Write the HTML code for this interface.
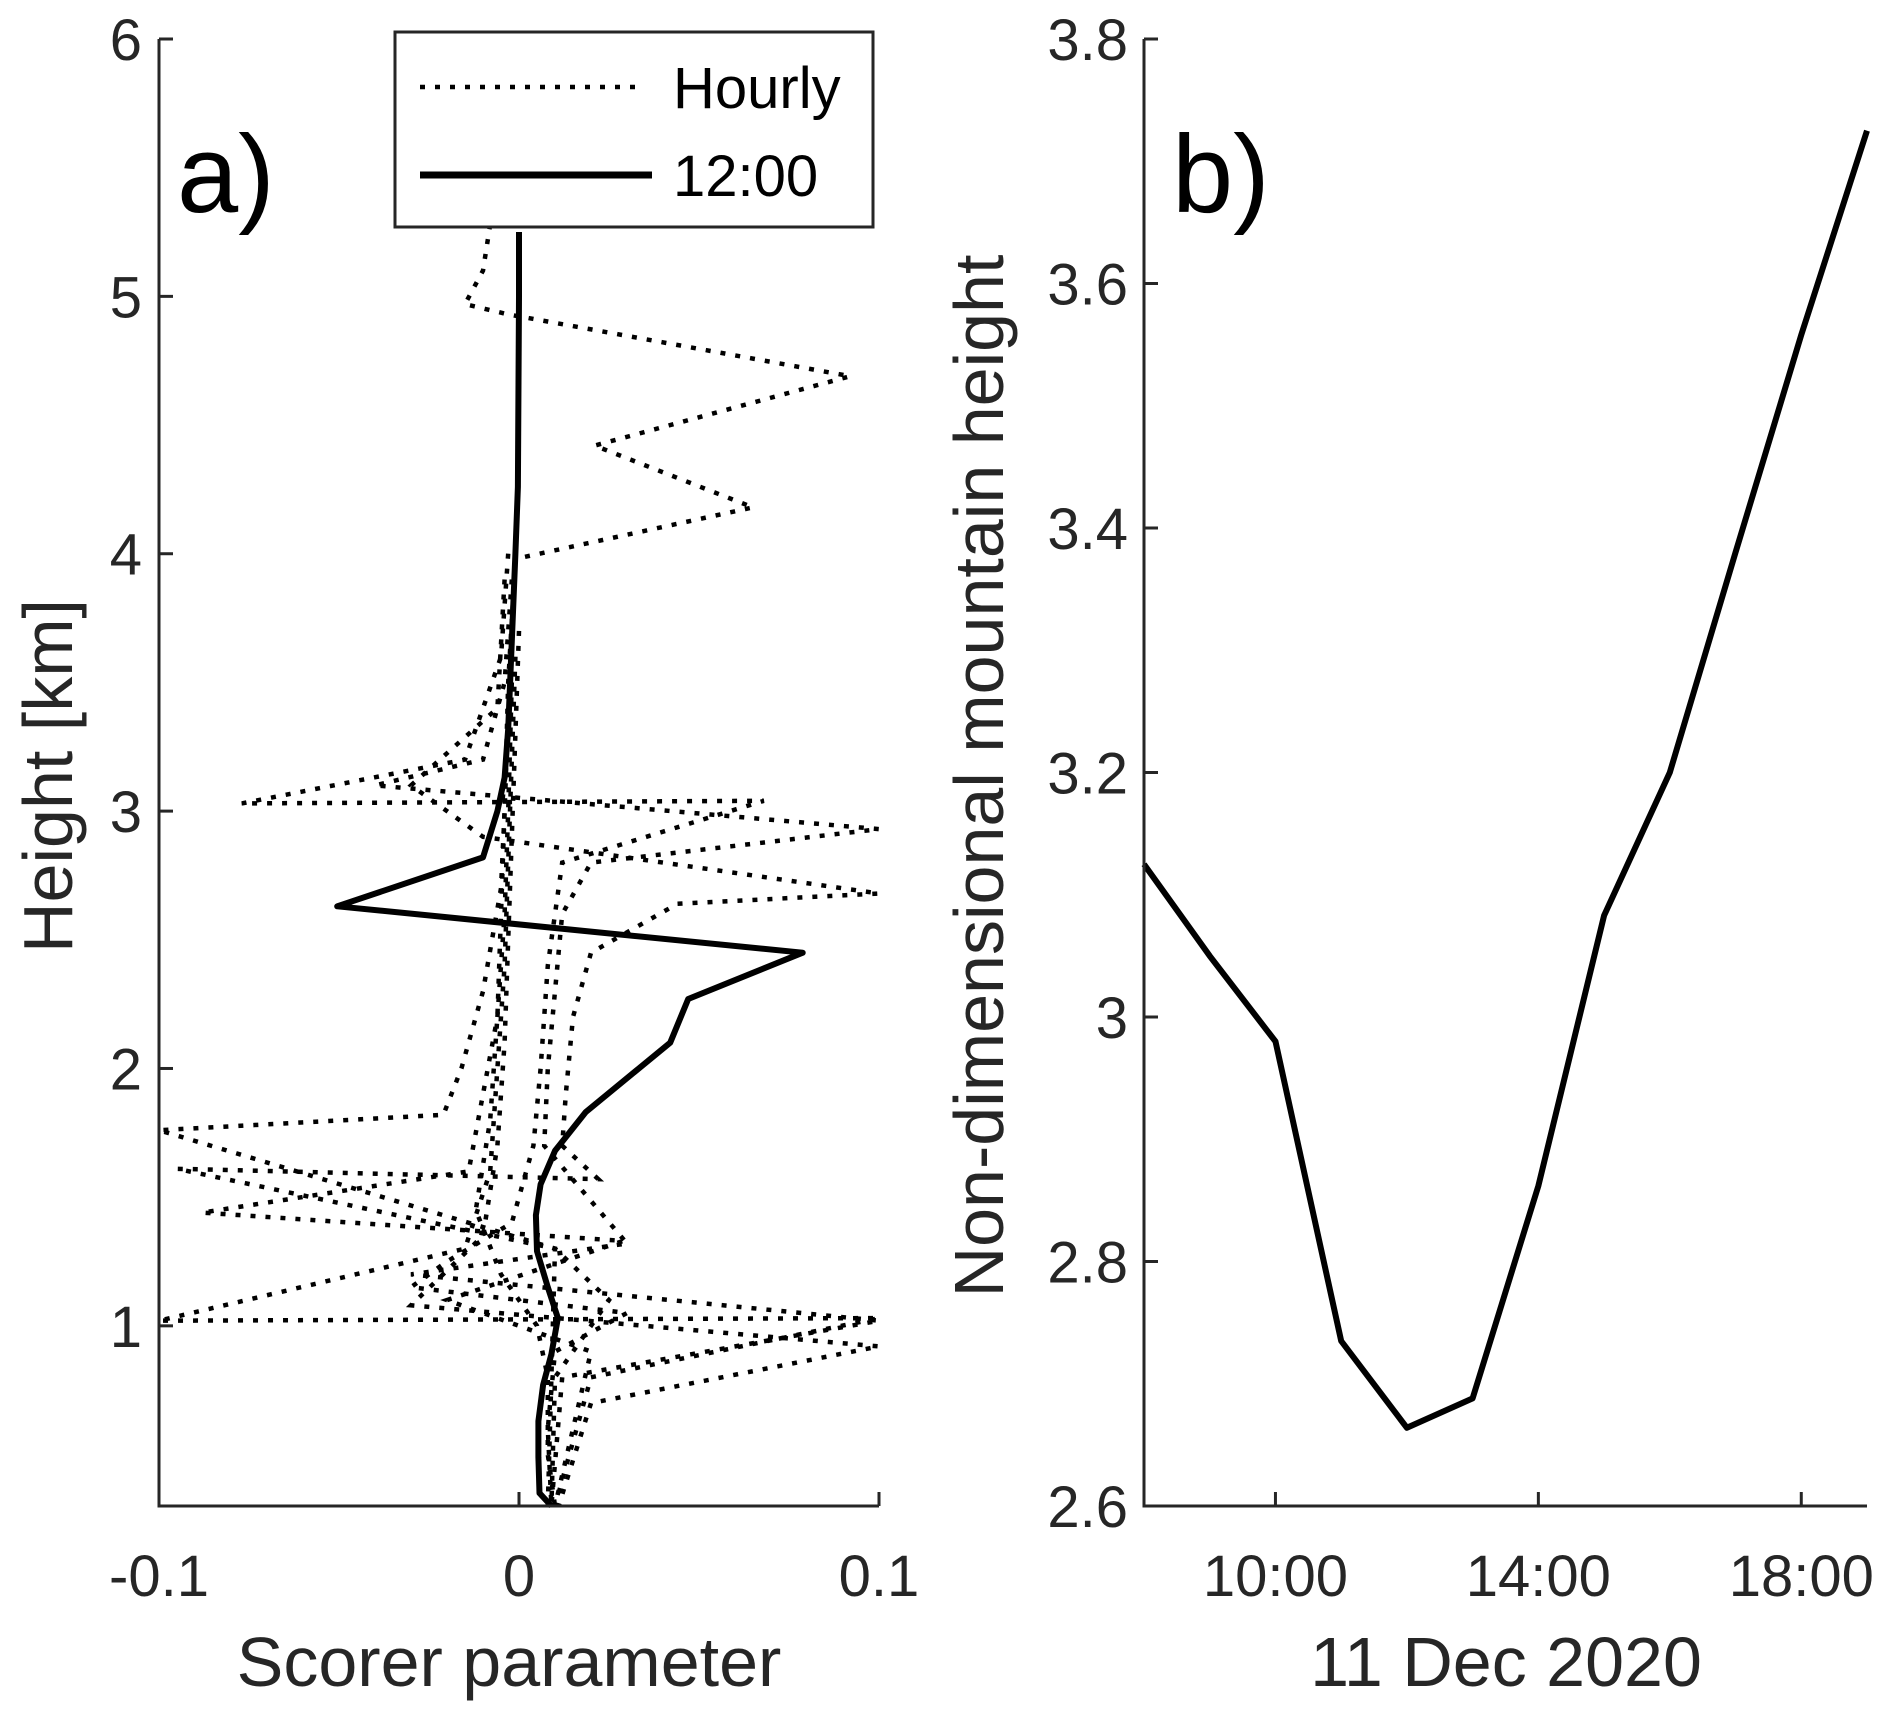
<!DOCTYPE html>
<html><head><meta charset="utf-8"><style>
html,body{margin:0;padding:0;background:#fff;}
svg{display:block;font-family:"Liberation Sans",Arial,sans-serif;}
</style></head><body>
<svg id="fig" width="1892" height="1716" viewBox="0 0 1892 1716" style="position:absolute;left:0;top:0;">
<g id="pa"></g>
<g id="pb"></g>
</svg>
<script>
// Panel a: Scorer parameter profiles
const aXTicks = [-0.1, 0, 0.1];
const aXTickLabels = ["-0.1", "0", "0.1"];
const aYTicks = [1, 2, 3, 4, 5, 6];
const aYTickLabels = ["1", "2", "3", "4", "5", "6"];
const noonScorer = [0, 0, -0.0003, -0.001, -0.003, -0.004, -0.006, -0.010, -0.0505, 0.0788, 0.047, 0.042, 0.0185, 0.010, 0.006, 0.0047, 0.005, 0.008, 0.0108, 0.009, 0.0067, 0.0054, 0.0054, 0.0057, 0.009];
const noonHeight = [5.25, 5.0, 4.26, 4.0, 3.32, 3.13, 3.0, 2.82, 2.63, 2.45, 2.27, 2.1, 1.83, 1.68, 1.55, 1.43, 1.29, 1.15, 1.03, 0.89, 0.77, 0.63, 0.49, 0.35, 0.3];
const hourlyScorer = [
  [-0.008,-0.010,-0.015,-0.003,0.092,0.021,0.065,-0.001,-0.003,-0.004,-0.005,-0.006,-0.008,-0.012,-0.005,0.005,0.008,0.008,0.01],
  [-0.003,-0.005,-0.015,-0.077,0.068,0.012,0.008,0.006,0.004,-0.002,-0.02,-0.03,0.03,0.01,0.008,0.009],
  [-0.002,-0.004,-0.01,-0.04,0.1,0.02,0.012,0.01,0.008,0.007,0.03,-0.03,0.1,0.012,0.009],
  [-0.004,-0.006,-0.03,-0.01,0.1,0.044,0.02,0.015,0.013,0.012,0.022,-0.095,0.01,0.008],
  [-0.003,-0.004,-0.005,-0.01,-0.016,-0.021,-0.1,0.01,0.025,0.01,0.009],
  [-0.002,-0.003,-0.004,-0.006,-0.01,-0.014,-0.088,0.029,-0.02,0.02,0.01],
  [-0.001,-0.002,-0.003,-0.004,-0.006,-0.008,-0.015,-0.1,0.1,0.02,0.01],
  [0.0,-0.001,-0.002,-0.003,-0.004,-0.006,-0.01,-0.03,0.1,0.02,0.011]
];
const hourlyHeight = [
  [5.28,5.1,4.97,4.93,4.69,4.42,4.18,3.98,3.5,3.0,2.6,2.2,1.8,1.45,1.2,1.0,0.8,0.5,0.3],
  [4.0,3.6,3.2,3.03,3.04,2.8,2.4,2.0,1.7,1.4,1.25,1.15,1.05,0.9,0.6,0.3],
  [3.9,3.5,3.2,3.1,2.93,2.8,2.6,2.3,2.0,1.7,1.32,1.2,1.02,0.8,0.3],
  [3.9,3.4,3.1,2.9,2.68,2.64,2.45,2.2,1.9,1.7,1.57,1.61,1.3,0.3],
  [3.4,3.0,2.7,2.3,2.0,1.82,1.76,1.3,1.1,0.8,0.3],
  [3.5,3.0,2.6,2.2,1.9,1.6,1.44,1.33,1.1,0.9,0.3],
  [3.6,3.2,2.8,2.4,2.0,1.6,1.3,1.02,1.03,0.8,0.3],
  [3.7,3.3,2.9,2.5,2.1,1.7,1.35,1.08,0.92,0.7,0.3]
];
// Panel b: non-dimensional mountain height
const bHours = [8, 9, 10, 11, 12, 13, 14, 15, 16, 17, 18, 19];
const bValues = [3.125, 3.05, 2.98, 2.735, 2.664, 2.688, 2.862, 3.083, 3.2, 3.38, 3.558, 3.725];
const bXTicks = [10, 14, 18];
const bXTickLabels = ["10:00", "14:00", "18:00"];
const bYTicks = [2.6, 2.8, 3.0, 3.2, 3.4, 3.6, 3.8];
const bYTickLabels = ["2.6", "2.8", "3", "3.2", "3.4", "3.6", "3.8"];

const NS = "http://www.w3.org/2000/svg";
const AX = "#262626";
function mk(parent, tag, attrs, text) {
  const e = document.createElementNS(NS, tag);
  for (const k in attrs) e.setAttribute(k, attrs[k]);
  if (text !== undefined) e.textContent = text;
  parent.appendChild(e);
  return e;
}
const yTop = 39, yBot = 1506;
const aX0 = 159, aX1 = 879;
const ax = v => aX0 + (v + 0.1) / 0.2 * (aX1 - aX0);
const ay = h => yBot - (h - 0.3) / 5.7 * (yBot - yTop);
const bX0 = 1144, bX1 = 1867;
const bx = t => bX0 + (t - 8) / 11 * (bX1 - bX0);
const by = v => yBot - (v - 2.6) / 1.2 * (yBot - yTop);

const pa = document.getElementById('pa');
const pb = document.getElementById('pb');

hourlyScorer.forEach((xs, i) => {
  const d = xs.map((v, j) => (j ? 'L' : 'M') + ax(v).toFixed(1) + ',' + ay(hourlyHeight[i][j]).toFixed(1)).join(' ');
  const p = mk(pa, 'path', {d: d, fill: 'none', stroke: '#000', 'stroke-width': 4.5, 'stroke-dasharray': '5 10'});
  
  
});
{
  const d = noonScorer.map((v, j) => (j ? 'L' : 'M') + ax(v).toFixed(1) + ',' + ay(noonHeight[j]).toFixed(1)).join(' ');
  const p = mk(pa, 'path', {d: d, fill: 'none', stroke: '#000', 'stroke-width': 6, 'stroke-linejoin': 'round'});
  
  
}
{
  const a = mk(pa, 'path', {d: `M${aX0},${yTop} V${yBot} H${aX1}`, fill: 'none', stroke: AX, 'stroke-width': 3});
  
  
  aXTicks.forEach((t, i) => {
    mk(pa, 'line', {x1: ax(t), x2: ax(t), y1: yBot, y2: yBot - 14, stroke: AX, 'stroke-width': 3});
    const tx = mk(pa, 'text', {x: ax(t), y: 1596, 'font-size': 58, fill: AX, 'text-anchor': 'middle'}, aXTickLabels[i]);
    
    
  });
  aYTicks.forEach((t, i) => {
    mk(pa, 'line', {x1: aX0, x2: aX0 + 14, y1: ay(t), y2: ay(t), stroke: AX, 'stroke-width': 3});
    const tx = mk(pa, 'text', {x: 142, y: ay(t) + 21, 'font-size': 58, fill: AX, 'text-anchor': 'end'}, aYTickLabels[i]);
    
    
  });
}
{
  const d = bHours.map((t, j) => (j ? 'L' : 'M') + bx(t).toFixed(1) + ',' + by(bValues[j]).toFixed(1)).join(' ');
  const p = mk(pb, 'path', {d: d, fill: 'none', stroke: '#000', 'stroke-width': 6, 'stroke-linejoin': 'round'});
  
  
}
{
  const a = mk(pb, 'path', {d: `M${bX0},${yTop} V${yBot} H${bX1}`, fill: 'none', stroke: AX, 'stroke-width': 3});
  
  
  bXTicks.forEach((t, i) => {
    mk(pb, 'line', {x1: bx(t), x2: bx(t), y1: yBot, y2: yBot - 14, stroke: AX, 'stroke-width': 3});
    const tx = mk(pb, 'text', {x: bx(t), y: 1596, 'font-size': 58, fill: AX, 'text-anchor': 'middle'}, bXTickLabels[i]);
    
    
  });
  bYTicks.forEach((t, i) => {
    mk(pb, 'line', {x1: bX0, x2: bX0 + 14, y1: by(t), y2: by(t), stroke: AX, 'stroke-width': 3});
    const tx = mk(pb, 'text', {x: 1128, y: by(t) + 21, 'font-size': 58, fill: AX, 'text-anchor': 'end'}, bYTickLabels[i]);
    
    
  });
}
</script>
<svg width="1892" height="1716" viewBox="0 0 1892 1716" style="position:absolute;left:0;top:0;font-family:'Liberation Sans',Arial,sans-serif;">
  <text x="509" y="1686" font-size="70" fill="#262626" text-anchor="middle">Scorer parameter</text>
  <text x="1506" y="1686" font-size="70" fill="#262626" text-anchor="middle">11 Dec 2020</text>
  <text transform="translate(72,776) rotate(-90)" font-size="70" fill="#262626" text-anchor="middle">Height [km]</text>
  <text transform="translate(1003,776) rotate(-90)" font-size="70" fill="#262626" text-anchor="middle">Non-dimensional mountain height</text>
  <text x="177" y="212" font-size="110" fill="#000">a)</text>
  <text x="1172" y="212" font-size="110" fill="#000">b)</text>
  <g>
    <rect x="395" y="32" width="478" height="195" fill="#fff" stroke="#262626" stroke-width="3"/>
    <line x1="420" y1="87" x2="636" y2="87" stroke="#000" stroke-width="4.5" stroke-dasharray="5 10"/>
    <text x="673" y="108" font-size="58" fill="#000">Hourly</text>
    <line x1="420" y1="175" x2="652" y2="175" stroke="#000" stroke-width="7"/>
    <text x="673" y="196" font-size="58" fill="#000">12:00</text>
  </g>
</svg>
</body></html>
